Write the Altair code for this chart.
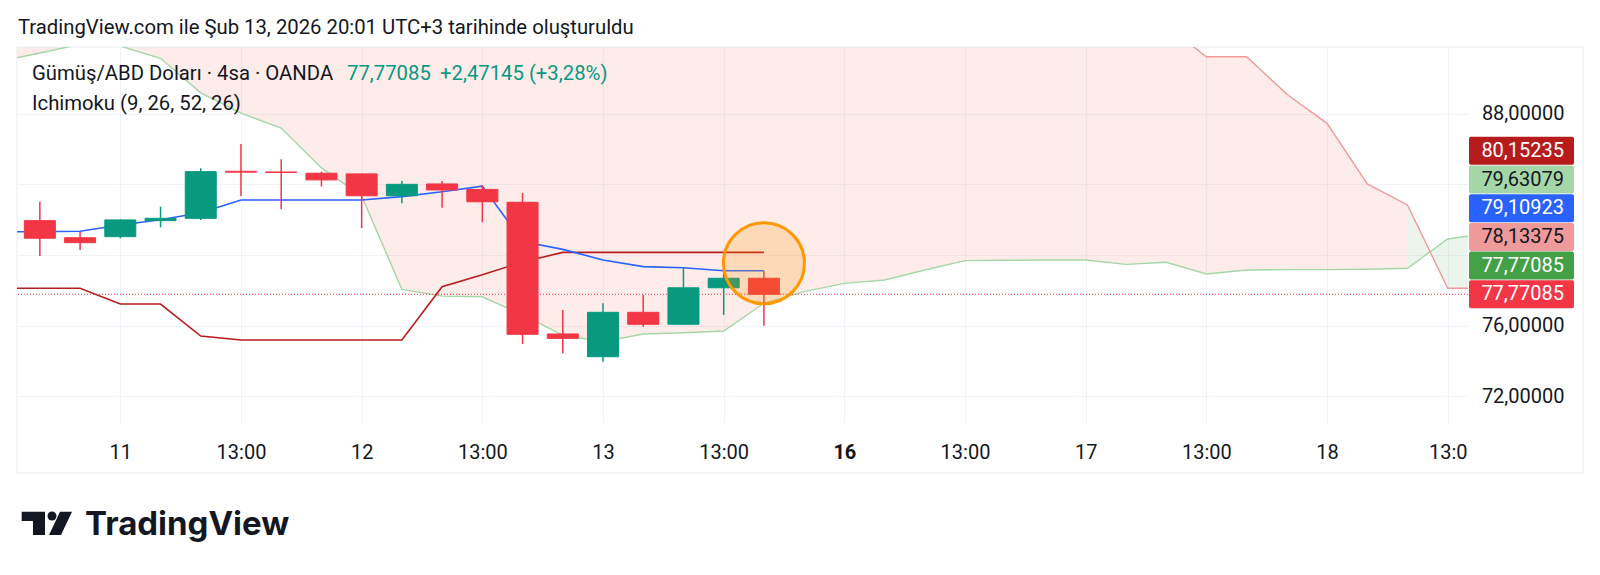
import altair as alt
import pandas as pd

# ---------------- data ----------------
candle_idx = list(range(19))
opens  = [81.95, 80.98, 81.04, 81.95, 82.08, 84.75, 84.71, 84.64, 84.60, 83.36,
          84.03, 83.72, 82.99, 75.52, 74.23, 76.75, 76.07, 78.14, 78.68]
highs  = [83.02, 81.32, 82.02, 82.74, 84.92, 86.30, 85.43, 84.73, 84.62, 84.20,
          84.20, 83.97, 83.52, 76.88, 77.26, 77.73, 79.30, 79.00, 79.09]
lows   = [79.94, 80.28, 80.95, 81.57, 81.99, 83.35, 82.59, 83.88, 81.52, 82.93,
          82.68, 81.86, 74.95, 74.42, 73.95, 75.93, 76.05, 76.60, 75.99]
closes = [80.95, 80.70, 81.99, 82.08, 84.73, 84.70, 84.68, 84.26, 83.36, 84.01,
          83.69, 83.02, 75.50, 75.27, 76.75, 76.07, 78.14, 78.68, 77.77085]

line_idx = list(range(-1, 19))
tenkan = [81.32, 81.32, 81.35, 81.70, 82.00, 82.40, 83.12, 83.12, 83.12, 83.12,
          83.31, 83.59, 83.91, 80.77, 80.32, 79.72, 79.34, 79.28, 79.11, 79.11]
kijun  = [78.11, 78.11, 78.11, 77.22, 77.22, 75.40, 75.18, 75.18, 75.18, 75.18,
          75.18, 78.20, 78.88, 79.60, 80.15, 80.15, 80.15, 80.15, 80.15, 80.15]

span_idx = list(range(-1, 37))
span_a = [90.98, 91.46, 91.95, 91.85, 91.16, 89.20, 88.05, 87.20, 84.94, 83.35,
          78.05, 77.67, 77.63, 76.60, 75.46, 75.08, 75.52, 75.59, 75.69, 77.26,
          77.92, 78.39, 78.58, 79.15, 79.68, 79.70, 79.72, 79.72, 79.47, 79.59,
          78.92, 79.15, 79.17, 79.17, 79.19, 79.25, 80.91, 81.25]
span_b = [97.3, 97.3, 97.3, 97.3, 97.3, 97.3, 97.3, 97.3, 97.3, 97.3,
          97.3, 97.3, 97.3, 97.3, 97.3, 97.3, 97.3, 97.3, 97.3, 97.3,
          97.3, 97.3, 97.3, 97.3, 97.3, 97.3, 97.3, 97.3, 97.3, 93.0,
          91.25, 91.25, 89.12, 87.47, 84.03, 82.84, 78.11, 78.11]
cloud_switch = 34          # from this bar on the cloud turns green

last_price = 77.77085

tick_pos  = [2, 5, 8, 11, 14, 17, 20, 23, 26, 29, 32, 35]
tick_text = ["11", "13:00", "12", "13:00", "13", "13:00", "16", "13:00",
             "17", "13:00", "18", "13:0"]
bold_tick = 20

price_ticks = [72, 76, 80, 84, 88]
hidden_price_ticks = [80, 84]

badge_text = ["80,15235", "79,63079", "79,10923", "78,13375", "77,77085", "77,77085"]
badge_fill = ["#B71C1C", "#A5D6A7", "#2962FF", "#EF9A9A", "#43A047", "#F23645"]
badge_ink  = ["#FFFFFF", "#131722", "#FFFFFF", "#131722", "#FFFFFF", "#FFFFFF"]

marker_idx = 18
marker_price = 79.53

header_text = "TradingView.com ile Şub 13, 2026 20:01 UTC+3 tarihinde oluşturuldu"
legend_name = "Gümüş/ABD Doları · 4sa · OANDA"
legend_price = "77,77085"
legend_change = "+2,47145 (+3,28%)"
legend_ind = "Ichimoku (9, 26, 52, 26)"
brand = "TradingView"

# ---------------- layout / style ----------------
W, H = 1451, 376
X_DOM = [-0.444, 35.38]
Y_DOM = [70.47, 91.80]
FONT = "Roboto"
INK = "#131722"
UP, DOWN = "#089981", "#F23645"
GRID = "#F0F3FA"
TXT = 20.3

xscale = alt.Scale(domain=X_DOM, nice=False, zero=False)
yscale = alt.Scale(domain=Y_DOM, nice=False, zero=False)

label_map = "{" + ",".join(f"'{p}':'{t}'" for p, t in zip(tick_pos, tick_text)) + "}[datum.value]"
xaxis = alt.Axis(values=tick_pos, labelExpr=label_map, title=None, grid=True,
                 gridColor=GRID, domain=False, ticks=False, labelFont=FONT,
                 labelFontSize=20, labelColor=INK, labelPadding=35,
                 labelBaseline="alphabetic", labelFlush=False, labelOverlap=False,
                 labelFontWeight={"condition": {"test": f"datum.value == {bold_tick}", "value": "bold"},
                                  "value": "normal"})
hide_test = "||".join(f"datum.value=={v}" for v in hidden_price_ticks)
yaxis = alt.Axis(orient="right", values=price_ticks, title=None, grid=True,
                 gridColor=GRID, domain=False, ticks=False, labelFont=FONT,
                 labelFontSize=20, labelColor=INK, labelAlign="right",
                 labelBaseline="middle", labelPadding=96, labelFlush=False,
                 labelOverlap=False,
                 labelExpr=f"({hide_test}) ? '' : replace(format(datum.value, '.5f'), '.', ',')")


def X(field="j"):
    return alt.X(f"{field}:Q", scale=xscale, axis=xaxis)


def Y(field):
    return alt.Y(f"{field}:Q", scale=yscale, axis=yaxis)


# ---------------- tables ----------------
candles = pd.DataFrame({"j": candle_idx, "o": opens, "h": highs, "l": lows, "c": closes})
candles["col"] = [UP if c >= o else DOWN for o, c in zip(opens, closes)]
lines = pd.DataFrame({"j": line_idx, "tenkan": tenkan, "kijun": kijun})
cloud = pd.DataFrame({"j": span_idx, "a": span_a, "b": span_b})
cloud_red = cloud[cloud["j"] <= cloud_switch]
cloud_green = cloud[cloud["j"] >= cloud_switch]

px_per_unit = H / (Y_DOM[1] - Y_DOM[0])
badge_h = 28.7 / px_per_unit
n = len(badge_text)
centers = [last_price + (n - 1 - k) * badge_h for k in range(n)]
badges = pd.DataFrame({"t": badge_text, "fill": badge_fill, "ink": badge_ink,
                       "mid": centers,
                       "top": [c + badge_h / 2 - 0.02 for c in centers],
                       "bot": [c - badge_h / 2 + 0.02 for c in centers]})

one = pd.DataFrame({"k": [0]})

# ---------------- layers ----------------
frame = alt.Chart(one).mark_rect(fillOpacity=0, stroke="#E9ECF2", strokeWidth=1).encode(
    x=alt.value(0), x2=alt.value(1566), y=alt.value(0), y2=alt.value(426))

area_red = alt.Chart(cloud_red).mark_area(color="#F44336", opacity=0.1, clip=True).encode(
    x=X(), y=Y("a"), y2="b:Q")
area_green = alt.Chart(cloud_green).mark_area(color="#43A047", opacity=0.1, clip=True).encode(
    x=X(), y=Y("a"), y2="b:Q")
line_a = alt.Chart(cloud).mark_line(color="#A5D6A7", strokeWidth=1.4, clip=True).encode(x=X(), y=Y("a"))
line_b = alt.Chart(cloud).mark_line(color="#EF9A9A", strokeWidth=1.4, clip=True).encode(x=X(), y=Y("b"))

price_line = alt.Chart(pd.DataFrame({"p": [last_price]})).mark_rule(
    color=DOWN, strokeWidth=1, strokeDash=[1, 2]).encode(y=Y("p"))

kijun_line = alt.Chart(lines).mark_line(color="#B71C1C", strokeWidth=1.6, clip=True).encode(x=X(), y=Y("kijun"))
tenkan_line = alt.Chart(lines).mark_line(color="#2962FF", strokeWidth=1.6, clip=True).encode(x=X(), y=Y("tenkan"))

wicks = alt.Chart(candles).mark_rule(strokeWidth=1.5).encode(
    x=X(), y=Y("l"), y2="h:Q", color=alt.Color("col:N", scale=None))
bodies = alt.Chart(candles).mark_bar(size=31, strokeWidth=1).encode(
    x=X(), y=Y("o"), y2="c:Q", color=alt.Color("col:N", scale=None),
    stroke=alt.Stroke("col:N", scale=None))

marker = alt.Chart(pd.DataFrame({"j": [marker_idx], "p": [marker_price]})).mark_point(
    shape="circle", size=6561, fill="#FF9800", fillOpacity=0.22, stroke="#FF9800",
    strokeWidth=3, strokeOpacity=1, opacity=1).encode(x=X(), y=Y("p"))

badge_rect = alt.Chart(badges).mark_rect(cornerRadius=2).encode(
    x=alt.value(1452), x2=alt.value(1557), y=Y("top"), y2="bot:Q",
    color=alt.Color("fill:N", scale=None))
badge_txt = alt.Chart(badges).mark_text(align="right", baseline="middle", font=FONT, fontSize=20).encode(
    x=alt.value(1547), y=Y("mid"), text="t:N", color=alt.Color("ink:N", scale=None))


def label(txt, x, y, size=TXT, color=INK, weight="normal", font=FONT):
    return alt.Chart(pd.DataFrame({"t": [txt]})).mark_text(
        align="left", baseline="alphabetic", font=font, fontSize=size,
        fontWeight=weight, color=color).encode(x=alt.value(x), y=alt.value(y), text="t:N")


texts = [
    label(header_text, 1, -13.5),
    label(legend_name, 15, 33),
    label(legend_price, 330, 33, color=UP),
    label(legend_change, 423, 33, color=UP),
    label(legend_ind, 15, 62.5),
    label(brand, 68, 488, size=33, weight="bold", font="Inter"),
]

logo_path = ("M -0.973 -0.448 L -0.077 -0.448 L -0.077 0.448 L -0.538 0.448 "
             "L -0.538 -0.090 L -0.973 -0.090 Z "
             "M 0.50 -0.448 L 0.962 -0.448 L 0.538 0.448 L 0.077 0.448 Z")
logo_shape = alt.Chart(one).mark_point(shape=logo_path, size=2704, filled=True,
                                       color=INK, opacity=1).encode(
    x=alt.value(30), y=alt.value(476.35))
logo_dot = alt.Chart(one).mark_point(shape="circle", size=81, filled=True,
                                     color=INK, opacity=1).encode(
    x=alt.value(35), y=alt.value(469))

chart = alt.layer(
    area_red, area_green, frame, line_a, line_b, price_line, kijun_line, tenkan_line,
    wicks, bodies, marker, badge_rect, badge_txt, *texts, logo_shape, logo_dot
).properties(
    width=W, height=H,
    autosize=alt.AutoSizeParams(type="none"),
    padding={"left": 9, "top": 39, "right": 120, "bottom": 130},
    background="white",
).configure_view(strokeWidth=0)

chart.save("out.html", embed_options={"renderer": "svg", "actions": False})
